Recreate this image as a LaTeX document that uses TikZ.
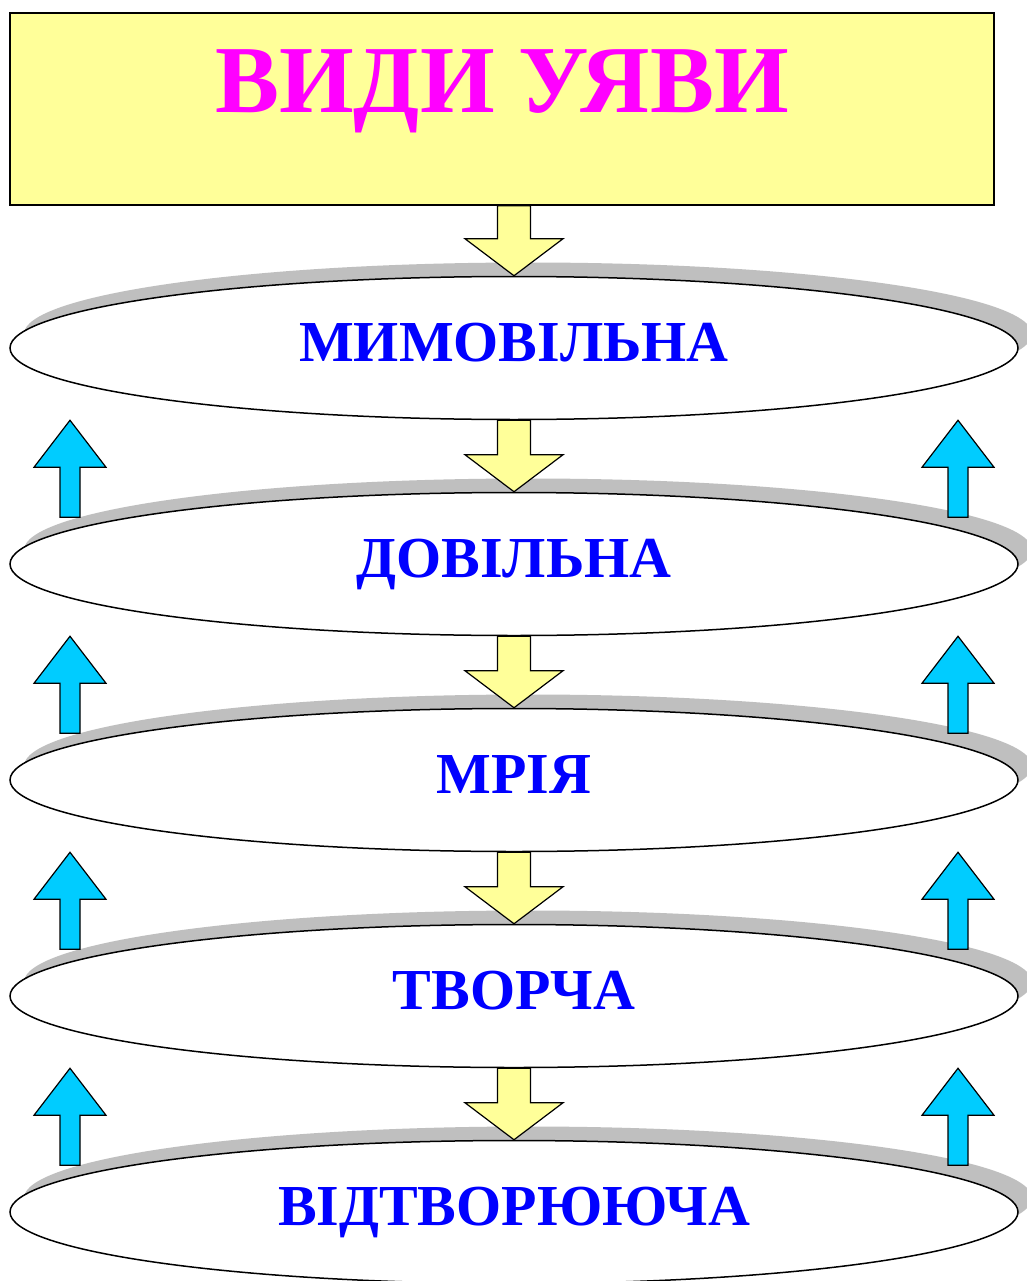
\documentclass[tikz,border=0pt]{standalone}
\usepackage{fontspec}
\setmainfont{Liberation Serif}
\usetikzlibrary{shapes.geometric,shadows,calc}
\definecolor{boxyellow}{HTML}{FFFF99}
\definecolor{arrcyan}{HTML}{00CCFF}
\definecolor{shadowgray}{HTML}{BFBFBF}
\definecolor{titlemag}{HTML}{FF00FF}
\definecolor{textblue}{HTML}{0000FF}
\tikzset{
  titlebox/.style={draw=black, line width=1.5pt, fill=boxyellow, rectangle,
    minimum width=984pt, minimum height=192pt, inner sep=0pt,
    text=titlemag, font=\fontsize{96}{100}\selectfont\bfseries,
    text height=63pt, text depth=55pt},
  levelell/.style={draw=black, line width=1.5pt, fill=white, ellipse,
    minimum width=1008pt, minimum height=143pt, inner sep=0pt,
    text=textblue, font=\fontsize{58}{62}\selectfont\bfseries,
    text height=38pt, text depth=12pt,
    drop shadow={shadow xshift=14pt, shadow yshift=14pt, fill=shadowgray, opacity=1, draw=none}},
  yarrow/.style={draw=black, line width=1.2pt, fill=boxyellow, line join=miter},
  carrow/.style={draw=black, line width=1.2pt, fill=arrcyan, line join=miter},
  uparr/.pic={\draw[carrow] (0,0) -- (36,47) -- (10,47) -- (10,97) -- (-10,97) -- (-10,47) -- (-36,47) -- cycle;}
}
\newcommand\yarrowbetween[2]{%
  \draw[yarrow] let \p1=(#1.south), \p2=(#2.north) in
    (\x2-16.5pt,\y1) -- (\x2+16.5pt,\y1) -- (\x2+16.5pt,\y2+37pt) -- (\x2+49pt,\y2+37pt)
    -- (\x2,\y2) -- (\x2-49pt,\y2+37pt) -- (\x2-16.5pt,\y2+37pt) -- cycle;}
\begin{document}
\begin{tikzpicture}[x=1pt,y=-1pt]
\useasboundingbox (0,0) rectangle (1026,1281);
\fill[white] (0,0) rectangle (1026,1281);
\node[titlebox] (title) at (502,109) {ВИДИ УЯВИ};
\node[levelell] (e1) at (514,348) {МИМОВІЛЬНА};
\node[levelell] (e2) at (514,564) {ДОВІЛЬНА};
\node[levelell] (e3) at (514,780) {МРІЯ};
\node[levelell] (e4) at (514,996) {ТВОРЧА};
\node[levelell] (e5) at (514,1212) {ВІДТВОРЮЮЧА};
\coordinate (L) at (70,0);
\coordinate (R) at (958,0);
\yarrowbetween{title}{e1}
\yarrowbetween{e1}{e2}
\yarrowbetween{e2}{e3}
\yarrowbetween{e3}{e4}
\yarrowbetween{e4}{e5}
\foreach \e in {e1,e2,e3,e4}{
  \pic at (\e.south -| L) {uparr};
  \pic at (\e.south -| R) {uparr};
}
\end{tikzpicture}
\end{document}
